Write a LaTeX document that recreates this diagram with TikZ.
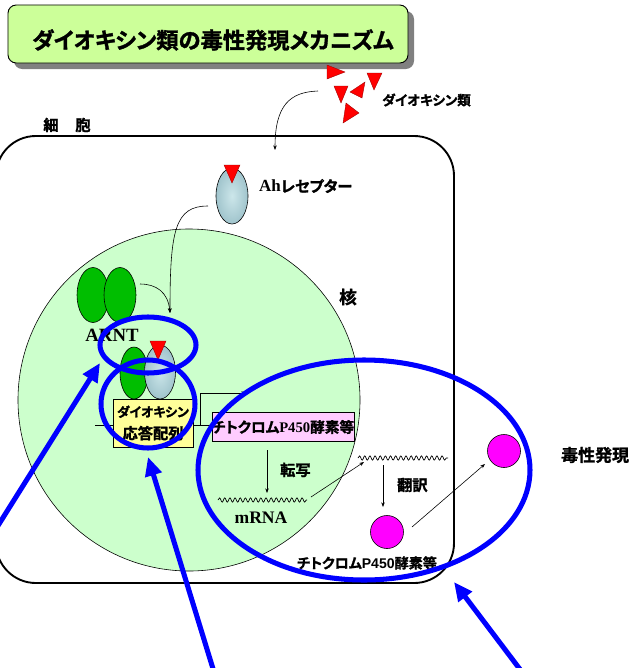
\documentclass[tikz,border=0pt]{standalone}
\usepackage{fontspec}
\setmainfont{Liberation Serif}
\setsansfont{Liberation Sans}
\newfontfamily\jp[BoldFont={Noto Sans CJK JP Bold},BoldFeatures={FakeBold=1.5},RawFeature=+palt]{Noto Sans CJK JP}
\usetikzlibrary{arrows.meta,decorations.pathmorphing,shapes.geometric}

\definecolor{titlegreen}{RGB}{204,255,153}
\definecolor{shadowgray}{RGB}{128,128,128}
\definecolor{nucleus}{RGB}{204,255,204}
\definecolor{leafgreen}{RGB}{0,190,0}
\definecolor{ahlight}{RGB}{204,230,234}
\definecolor{ahdark}{RGB}{160,196,204}
\definecolor{respyellow}{RGB}{255,255,153}
\definecolor{cyppink}{RGB}{255,204,255}
\definecolor{enzpink}{RGB}{255,0,255}
\definecolor{ringblue}{RGB}{0,0,255}

\begin{document}
\begin{tikzpicture}[x=0.03cm,y=-0.03cm,
    jp/.style={font=\jp\bfseries\fontsize{#1}{#1}\selectfont},
    serif/.style={font=\bfseries\fontsize{#1}{#1}\selectfont},
    titlebox/.style={rectangle, rounded corners=7pt, minimum width=12cm, minimum height=1.74cm, inner sep=0pt},
    dioxin/.style={fill=red, draw=red!60!black, line width=0.3pt},
    blob/.style={ellipse, draw, line width=0.5pt, inner sep=0pt},
    arnt/.style={blob, fill=leafgreen, minimum width=0.96cm, minimum height=1.65cm},
    ahr/.style={blob, inner color=ahlight, outer color=ahdark, minimum width=0.96cm, minimum height=1.68cm},
    link/.style={-{Stealth[length=4pt,width=3pt]}, line width=0.5pt},
    mrna/.style={decorate, decoration={snake, segment length=4.4pt, amplitude=1.8pt}, line width=0.6pt},
    ring/.style={draw=ringblue, line width=4.3pt},
    pointer/.style={ringblue, line width=4.3pt, -{Triangle[length=16pt, width=14pt]}},
    enzyme/.style={circle, draw, fill=enzpink, minimum size=0.99cm, inner sep=0pt, line width=0.5pt}]
\useasboundingbox (0,0) rectangle (629,668);

% title panel
\node[titlebox, fill=shadowgray] (shadow) at (214,40) {};
\node[titlebox, draw, fill=titlegreen, line width=0.8pt] (title) at (208,34) {};
\node[jp=19, anchor=west] (titletext) at (28,40) {ダイオキシン類の毒性発現メカニズム};

% dioxin molecules
\foreach \a/\b/\c in {{(327,65)}/{(327,79)}/{(345,72)}, {(367,73)}/{(382,73)}/{(374,90)},
    {(334,86)}/{(348,86)}/{(341,103)}, {(365,82)}/{(362,98)}/{(350,92)},
    {(346,103)}/{(343,123)}/{(359,113)}}
  \filldraw[dioxin] \a -- \b -- \c -- cycle;
\node[jp=11.5, anchor=west] (dxlbl) at (378,100) {ダイオキシン類};

% cell and nucleus
\draw[line width=1.6pt, rounded corners=34pt] (-4,136) rectangle (454,583);
\node[jp=13] (cell) at (67,125) {細\hspace{1.1em}胞};
\node[circle, draw, fill=nucleus, minimum size=10.26cm, line width=0.5pt] (nuc) at (189,400) {};
\node[jp=15] (nuclbl) at (348,297) {核};

% Ah receptor with bound dioxin
\node[ahr] (ah) at (232,196) {};
\filldraw[dioxin] (224,165) -- (240,165) -- (232,183) -- cycle;
\node[serif=14.5, anchor=west] (ahlbl) at (255,186) {Ah{\jp\fontsize{13}{13}\selectfont レセプター}};

% ARNT
\node[arnt] (arnt1) at (93,295) {};
\node[arnt] (arnt2) at (120,295) {};
\node[serif=16] (arntlbl) at (112,335) {ARNT};

% ligand / AhR / ARNT complex
\node[arnt, minimum width=0.84cm, minimum height=1.56cm] (cgreen) at (134,373) {};
\node[ahr, minimum width=0.93cm, minimum height=1.62cm] (cahr) at (160,372) {};
\filldraw[dioxin] (150,341) -- (166,341) -- (158,360) -- cycle;

\coordinate (dxout) at (318,91);
\coordinate (dxin) at (275,150);
\coordinate (ahout) at (208,206);
\coordinate (arntout) at (140,284);
\coordinate (bind) at (170,313);
\draw[link] (dxout) .. controls (290,92) and (275,105) .. (dxin);
\draw[link] (ahout) .. controls (175,206) and (170,230) .. (bind);
\draw[link] (arntout) .. controls (156,284) and (168,292) .. (bind);

% DNA and transcription start
\coordinate (dnaL) at (95,425);
\coordinate (dnaR) at (213,425);
\coordinate (turn) at (200,425);
\coordinate (tss) at (246,393);
\draw[line width=0.5pt] (dnaL) -- (dnaR);
\draw[link] (turn) |- (tss);

\node[draw, fill=respyellow, minimum width=2.4cm, minimum height=1.44cm, align=center, jp=13, inner sep=0pt, line width=0.5pt] (dre) at (153,423) {{\fontsize{11}{11}\selectfont ダイオキシン}\\[6pt]応答配列};
\node[draw, fill=cyppink, minimum width=4.2cm, minimum height=0.87cm, jp=12.5, inner sep=0pt, line width=0.5pt] (cyp) at (283,427) {チトクロム{\rmfamily P450}酵素等};

% transcription and translation
\coordinate (tx1) at (267,450);
\coordinate (tx2) at (267,493);
\draw[link] (tx1) -- (tx2);
\node[jp=13, anchor=west] (txlbl) at (276,470) {転写};
\coordinate (m1a) at (218,500);
\coordinate (m1b) at (307,500);
\draw[mrna] (m1a) -- (m1b);
\node[serif=15] (mrnalbl) at (261,518) {mRNA};
\coordinate (m2a) at (358,458);
\coordinate (m2b) at (448,458);
\draw[mrna] (m2a) -- (m2b);
\coordinate (exp1) at (311,497);
\coordinate (exp2) at (364,462);
\draw[link] (exp1) -- (exp2);
\coordinate (tl1) at (383,465);
\coordinate (tl2) at (383,507);
\draw[link] (tl1) -- (tl2);
\node[jp=13, anchor=west] (tllbl) at (393,485) {翻訳};
\node[enzyme] (enz1) at (387,532) {};
\node[jp=12] (enzlbl) at (367,563) {チトクロム{\sffamily P450}酵素等};
\node[enzyme] (enz2) at (504,451) {};
\coordinate (tox1) at (412,527);
\coordinate (tox2) at (485,464);
\draw[link] (tox1) -- (tox2);
\node[jp=14.5, anchor=west] (toxlbl) at (557,455) {毒性発現};

% highlight rings and pointers
\draw[ring] (148,345) ellipse [x radius=48, y radius=28];
\draw[ring] (148,404) ellipse [x radius=47, y radius=44];
\draw[ring] (364,470) ellipse [x radius=166, y radius=110];
\coordinate (p1a) at (-6,532);
\coordinate (p1b) at (100,363);
\coordinate (p2a) at (214,672);
\coordinate (p2b) at (148,457);
\coordinate (p3a) at (522,672);
\coordinate (p3b) at (454,582);
\foreach \s/\t in {p1a/p1b, p2a/p2b, p3a/p3b}
  \draw[pointer] (\s) -- (\t);
\end{tikzpicture}
\end{document}
